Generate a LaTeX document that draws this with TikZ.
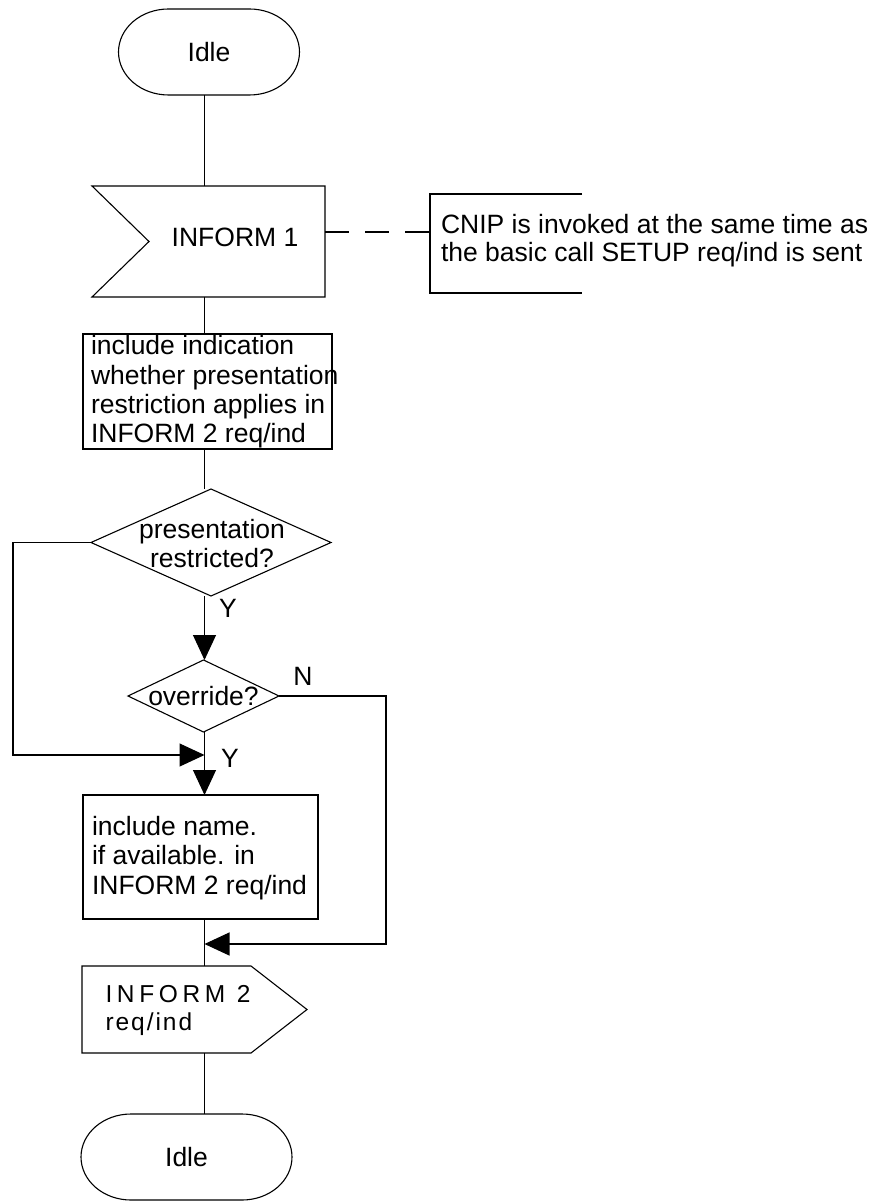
\documentclass[tikz,border=0pt]{standalone}
\usepackage{fontspec}
\setmainfont{Liberation Sans}
\newfontfamily\spacedfont[LetterSpace=19]{Liberation Sans}
\usetikzlibrary{arrows.meta}

% stacked text lines whose baseline is that of the first line
\newcommand\txtlines[2]{\begin{tabular}[t]{@{}#1@{}}#2\end{tabular}}

\begin{document}
\begin{tikzpicture}[x=0.5pt,y=-0.5pt,
  line width=0.55pt,
  every node/.style={inner sep=0pt,outer sep=0pt},
  txt/.style={font=\fontsize{13.25pt}{14.6pt}\selectfont},
  shapebox/.style={draw=none,minimum width=#1},
  arr/.style={-{Triangle[length=12.5pt,width=11.5pt]}},
  lbl/.style={txt}
]
\fill[white] (0,0) rectangle (876,1202);
\useasboundingbox (0,0) rectangle (876,1202);

% reference columns
\coordinate (sp)  at (204.5,0);
\coordinate (lft) at (13,0);
\coordinate (rt)  at (386,0);
\coordinate (lk)  at (0,232);

% ---- start state
\node[txt,shapebox=90.5pt,minimum height=43pt] (idle1) at (209,52) {Idle};
\draw ([xshift=25pt]idle1.north west) -- ([xshift=-25pt]idle1.north east)
  arc[start angle=90,end angle=-90,x radius=25pt,y radius=21.5pt]
  -- ([xshift=25pt]idle1.south west)
  arc[start angle=270,end angle=90,x radius=25pt,y radius=21.5pt] -- cycle;

% ---- input signal
\node[shapebox=116.5pt,minimum height=55.5pt] (in1) at (208.5,241.5) {};
\draw (in1.north west) -- (in1.north east) -- (in1.south east)
  -- (in1.south west) -- ([xshift=28.5pt]in1.west) -- cycle;
\node[txt,anchor=base] (in1t) at (235,247) {INFORM 1};

% ---- comment
\node[shapebox=76pt,minimum height=49.5pt] (note) at (506,243.5) {};
\draw (note.north east) -- (note.north west) -- (note.south west) -- (note.south east);
\node[font=\fontsize{13.25pt}{13.5pt}\selectfont,anchor=base west] (notet) at (441,234)
  {\txtlines{l}{CNIP is invoked at the same time as\\the basic call SETUP req/ind is sent}};
\draw[dash pattern=on 12pt off 8pt] (in1.east |- lk) -- (note.west |- lk);

% ---- first task
\node[draw,minimum width=124.5pt,minimum height=57.5pt] (box1) at (207.5,391.5) {};
\node[txt,anchor=base west] (box1t) at (91,355)
  {\txtlines{l}{include indication\\whether presentation\\restriction applies in\\INFORM 2 req/ind}};

% ---- decisions
\node[shapebox=120pt,minimum height=53.5pt] (dia1) at (211,542.5) {};
\draw (dia1.north) -- (dia1.east) -- (dia1.south) -- (dia1.west) -- cycle;
\node[txt,anchor=base] (dia1t) at (212,538) {\txtlines{c}{presentation\\restricted?}};

\node[txt,shapebox=75.5pt,minimum height=36pt] (dia2) at (203.5,696) {override?};
\draw (dia2.north) -- (dia2.east) -- (dia2.south) -- (dia2.west) -- cycle;

% ---- second task
\node[draw,minimum width=117.5pt,minimum height=62pt] (box2) at (200.5,857) {};
\node[font=\fontsize{13.25pt}{14.85pt}\selectfont,anchor=base west] (box2t) at (92,835)
  {\txtlines{l}{include name.\\if available. in\\INFORM 2 req/ind}};

% ---- output signal
\node[shapebox=112.5pt,minimum height=43.5pt] (out2) at (194.5,1009.5) {};
\draw (out2.north west) -- ([xshift=-28pt]out2.north east) -- (out2.east)
  -- ([xshift=-28pt]out2.south east) -- (out2.south west) -- cycle;
\node[font=\spacedfont\fontsize{12.25pt}{14pt}\selectfont,anchor=base west] (out2t) at (105.5,1002)
  {\txtlines{l}{INFORM 2\\\addfontfeature{LetterSpace=8}req/ind}};

% ---- end state
\node[txt,shapebox=105.5pt,minimum height=43pt] (idle2) at (186.5,1157) {Idle};
\draw ([xshift=25pt]idle2.north west) -- ([xshift=-25pt]idle2.north east)
  arc[start angle=90,end angle=-90,x radius=25pt,y radius=21.5pt]
  -- ([xshift=25pt]idle2.south west)
  arc[start angle=270,end angle=90,x radius=25pt,y radius=21.5pt] -- cycle;

% ---- flow
\coordinate (j1) at (204.5,755);
\coordinate (j2) at (204.5,944);
\draw (idle1.south -| sp) -- (in1.north -| sp);
\draw (in1.south -| sp) -- (box1.north -| sp);
\draw (box1.south -| sp) -- (dia1.north -| sp);
\draw[arr] (dia1.south -| sp) -- (dia2.north -| sp);
\draw[arr] (dia1.west) -- (dia1.west -| lft) |- (j1);
\draw[arr] (dia2.south -| sp) -- (box2.north -| sp);
\draw[arr] (dia2.east) -- (dia2.east -| rt) |- (j2);
\draw (box2.south -| sp) -- (out2.north -| sp);
\draw (out2.south -| sp) -- (idle2.north -| sp);

\node[lbl] (y1) at (228,608) {Y};
\node[lbl] (y2) at (230,758) {Y};
\node[lbl] (n1) at (303,676) {N};
\end{tikzpicture}
\end{document}
